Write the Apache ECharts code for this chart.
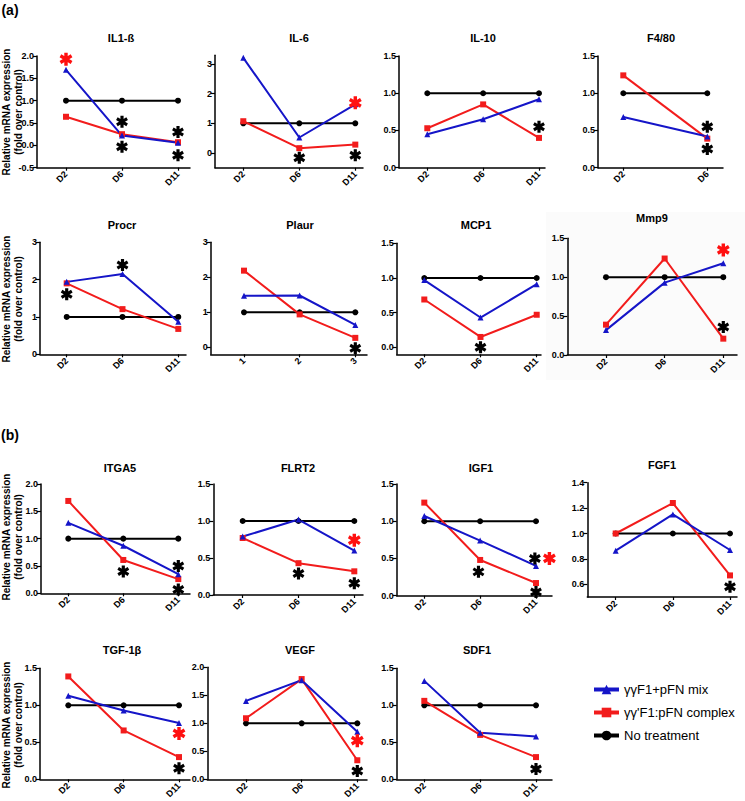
<!DOCTYPE html>
<html><head><meta charset="utf-8">
<script src="https://cdn.jsdelivr.net/npm/echarts@6/dist/echarts.min.js"></script>
<style>html,body{margin:0;padding:0;background:#fff}#c{width:745px;height:801px}</style>
</head><body><div id="c"></div>
<script>
// ---------- categories & tick labels ----------
const days = ['D2', 'D6', 'D11'];
const days2 = ['D2', 'D6'];
const nums = ['1', '2', '3'];
const ticksIL1b = [-0.5, 0, 0.5, 1, 1.5, 2];
const ticksInt3 = [0, 1, 2, 3];
const ticks15 = [0, 0.5, 1, 1.5];
const ticks20 = [0, 0.5, 1, 1.5, 2];
const ticksFGF1 = [0.6, 0.8, 1.0, 1.2, 1.4];

// ---------- series names ----------
const nameMix = 'γγF1+pFN mix';
const nameCpx = "γγ'F1:pFN complex";
const nameCtl = 'No treatment';

// ---------- values (fold over control) ----------
const IL1b_mix = [1.69, 0.22, 0.06];
const IL1b_cpx = [0.64, 0.25, 0.07];
const IL1b_ctl = [1, 1, 1];
const IL1b_starBlack = [[1, 0.53], [1, -0.03], [2, 0.30], [2, -0.22]];
const IL1b_starRed = [[0, 1.93]];

const IL6_mix = [3.21, 0.52, 1.64];
const IL6_cpx = [1.07, 0.16, 0.28];
const IL6_ctl = [1, 1, 1];
const IL6_starBlack = [[1, -0.16], [2, -0.08]];
const IL6_starRed = [[2, 1.69]];

const IL10_mix = [0.45, 0.65, 0.92];
const IL10_cpx = [0.53, 0.85, 0.40];
const IL10_ctl = [1, 1, 1];
const IL10_starBlack = [[2, 0.55]];
const IL10_starRed = [];

const F480_mix = [0.68, 0.42];
const F480_cpx = [1.24, 0.39];
const F480_ctl = [1, 1];
const F480_starBlack = [[1, 0.55], [1, 0.25]];
const F480_starRed = [];

const Procr_mix = [1.94, 2.15, 0.87];
const Procr_cpx = [1.90, 1.21, 0.68];
const Procr_ctl = [1, 1, 1];
const Procr_starBlack = [[1, 2.39], [0, 1.61]];
const Procr_starRed = [];

const Plaur_mix = [1.47, 1.48, 0.64];
const Plaur_cpx = [2.19, 0.94, 0.27];
const Plaur_ctl = [1, 1, 1];
const Plaur_starBlack = [[2, -0.03]];
const Plaur_starRed = [];

const MCP1_mix = [0.97, 0.43, 0.91];
const MCP1_cpx = [0.69, 0.15, 0.47];
const MCP1_ctl = [1, 1, 1];
const MCP1_starBlack = [[1, 0.0]];
const MCP1_starRed = [];

const Mmp9_mix = [0.32, 0.93, 1.18];
const Mmp9_cpx = [0.39, 1.24, 0.21];
const Mmp9_ctl = [1, 1, 1];
const Mmp9_starBlack = [[2, 0.36]];
const Mmp9_starRed = [[2, 1.35]];

const ITGA5_mix = [1.29, 0.87, 0.35];
const ITGA5_cpx = [1.69, 0.61, 0.26];
const ITGA5_ctl = [1, 1, 1];
const ITGA5_starBlack = [[1, 0.40], [2, 0.50], [2, 0.07]];
const ITGA5_starRed = [];

const FLRT2_mix = [0.79, 1.02, 0.60];
const FLRT2_cpx = [0.77, 0.43, 0.32];
const FLRT2_ctl = [1, 1, 1];
const FLRT2_starBlack = [[1, 0.29], [2, 0.16]];
const FLRT2_starRed = [[2, 0.74]];

const IGF1_mix = [1.07, 0.74, 0.40];
const IGF1_cpx = [1.25, 0.48, 0.17];
const IGF1_ctl = [1, 1, 1];
const IGF1_starBlack = [[0.97, 0.32], [1.98, 0.50], [2, 0.05]];
const IGF1_starRed = [[2.24, 0.50]];

const FGF1_mix = [0.865, 1.15, 0.87];
const FGF1_cpx = [1.0, 1.24, 0.67];
const FGF1_ctl = [1, 1, 1];
const FGF1_starBlack = [[2, 0.58]];
const FGF1_starRed = [];

const TGF_mix = [1.13, 0.93, 0.76];
const TGF_cpx = [1.39, 0.66, 0.30];
const TGF_ctl = [1, 1, 1];
const TGF_starBlack = [[2, 0.15]];
const TGF_starRed = [[2, 0.62]];

const VEGF_mix = [1.40, 1.77, 0.85];
const VEGF_cpx = [1.09, 1.79, 0.34];
const VEGF_ctl = [1, 1, 1];
const VEGF_starBlack = [[2, 0.15]];
const VEGF_starRed = [[2, 0.69]];

const SDF1_mix = [1.33, 0.63, 0.58];
const SDF1_cpx = [1.06, 0.60, 0.30];
const SDF1_ctl = [1, 1, 1];
const SDF1_starBlack = [[2, 0.14]];
const SDF1_starRed = [];

// ---------- panel definitions ----------
const panels = [
  {t: 'IL1-ß', c: days, mix: IL1b_mix, cpx: IL1b_cpx, ctl: IL1b_ctl, sb: IL1b_starBlack, sr: IL1b_starRed, ymin: -0.5, ymax: 2.0, yt: ticksIL1b, dec: 1},
  {t: 'IL-6', c: days, mix: IL6_mix, cpx: IL6_cpx, ctl: IL6_ctl, sb: IL6_starBlack, sr: IL6_starRed, ymin: -0.5, ymax: 3.3, yt: ticksInt3, dec: 0},
  {t: 'IL-10', c: days, mix: IL10_mix, cpx: IL10_cpx, ctl: IL10_ctl, sb: IL10_starBlack, sr: IL10_starRed, ymin: 0, ymax: 1.5, yt: ticks15, dec: 1},
  {t: 'F4/80', c: days2, mix: F480_mix, cpx: F480_cpx, ctl: F480_ctl, sb: F480_starBlack, sr: F480_starRed, ymin: 0, ymax: 1.5, yt: ticks15, dec: 1},
  {t: 'Procr', c: days, mix: Procr_mix, cpx: Procr_cpx, ctl: Procr_ctl, sb: Procr_starBlack, sr: Procr_starRed, ymin: 0, ymax: 3, yt: ticksInt3, dec: 0},
  {t: 'Plaur', c: nums, mix: Plaur_mix, cpx: Plaur_cpx, ctl: Plaur_ctl, sb: Plaur_starBlack, sr: Plaur_starRed, ymin: -0.2, ymax: 3, yt: ticksInt3, dec: 0},
  {t: 'MCP1', c: days, mix: MCP1_mix, cpx: MCP1_cpx, ctl: MCP1_ctl, sb: MCP1_starBlack, sr: MCP1_starRed, ymin: -0.1, ymax: 1.5, yt: ticks15, dec: 1},
  {t: 'Mmp9', c: days, mix: Mmp9_mix, cpx: Mmp9_cpx, ctl: Mmp9_ctl, sb: Mmp9_starBlack, sr: Mmp9_starRed, ymin: 0, ymax: 1.5, yt: ticks15, dec: 1},
  {t: 'ITGA5', c: days, mix: ITGA5_mix, cpx: ITGA5_cpx, ctl: ITGA5_ctl, sb: ITGA5_starBlack, sr: ITGA5_starRed, ymin: 0, ymax: 2.0, yt: ticks20, dec: 1},
  {t: 'FLRT2', c: days, mix: FLRT2_mix, cpx: FLRT2_cpx, ctl: FLRT2_ctl, sb: FLRT2_starBlack, sr: FLRT2_starRed, ymin: 0, ymax: 1.5, yt: ticks15, dec: 1},
  {t: 'IGF1', c: days, mix: IGF1_mix, cpx: IGF1_cpx, ctl: IGF1_ctl, sb: IGF1_starBlack, sr: IGF1_starRed, ymin: 0, ymax: 1.5, yt: ticks15, dec: 1},
  {t: 'FGF1', c: days, mix: FGF1_mix, cpx: FGF1_cpx, ctl: FGF1_ctl, sb: FGF1_starBlack, sr: FGF1_starRed, ymin: 0.5, ymax: 1.4, yt: ticksFGF1, dec: 1},
  {t: 'TGF-1β', c: days, mix: TGF_mix, cpx: TGF_cpx, ctl: TGF_ctl, sb: TGF_starBlack, sr: TGF_starRed, ymin: 0, ymax: 1.5, yt: ticks15, dec: 1},
  {t: 'VEGF', c: days, mix: VEGF_mix, cpx: VEGF_cpx, ctl: VEGF_ctl, sb: VEGF_starBlack, sr: VEGF_starRed, ymin: 0, ymax: 2.0, yt: ticks20, dec: 1},
  {t: 'SDF1', c: days, mix: SDF1_mix, cpx: SDF1_cpx, ctl: SDF1_ctl, sb: SDF1_starBlack, sr: SDF1_starRed, ymin: 0, ymax: 1.5, yt: ticks15, dec: 1}
];

// layout (pixels): axisLeft, axisRight, firstCat, lastCat, plotTop, plotBottom, titleX, titleY
const layout = [
  [37, 190, 66, 178, 56, 167.7, 121, 38],
  [215, 363, 243.3, 355.3, 55.2, 167.7, 299, 38],
  [399, 545, 427.3, 539, 56, 167.7, 483, 38],
  [598, 723, 623.3, 707.3, 56, 167.7, 661, 38],
  [40, 186, 66.7, 178.3, 242.3, 354.3, 122, 225],
  [210.7, 367, 244, 355.3, 242.3, 354.3, 300, 225],
  [396.7, 541, 424.3, 536.7, 243.3, 354.3, 476, 225],
  [567.3, 737, 606, 723.3, 238.3, 355, 652, 218],
  [41, 190, 68.3, 178.3, 484, 593.3, 120, 468],
  [213.3, 363, 242.7, 354.3, 484, 595, 298, 468],
  [396.7, 552, 424.3, 536, 484, 595.7, 481, 468],
  [587.3, 737, 615.7, 730, 482.7, 597, 662, 465],
  [40, 190, 68.3, 179, 668.3, 779.3, 122, 650],
  [207.3, 367, 246, 357.3, 667.3, 779.3, 300, 650],
  [396.7, 552, 424.3, 536, 668.3, 779.3, 477, 650]
];

const FONT = '"Liberation Sans Narrow", "Liberation Sans", Arial, sans-serif';
const BLUE = '#1515c8';
const RED = '#f21c1c';
const STAR = 'path://M4.55 0.5 L7.45 0.5 L7.45 11.5 L4.55 11.5 Z M9.98 1.88 L11.43 4.39 L2.02 10.12 L0.57 7.61 Z M11.43 7.61 L9.98 10.12 L0.57 4.39 L2.02 1.88 Z';

const grids = [], xAxes = [], yAxes = [], series = [], graphics = [];

graphics.push({type: 'rect', shape: {x: 546, y: 212, width: 199, height: 168}, style: {fill: '#fbfbfb'}, z: -10, silent: true});

panels.forEach((p, i) => {
  const L = layout[i];
  const n = p.c.length;
  const step = (L[3] - L[2]) / (n - 1);
  grids.push({left: L[0], top: L[4], width: L[1] - L[0], height: L[5] - L[4], containLabel: false});
  const idx = p.c.map((_, k) => k);
  xAxes.push({
    type: 'value', gridIndex: i,
    min: -(L[2] - L[0]) / step, max: (n - 1) + (L[1] - L[3]) / step,
    axisLine: {show: true, onZero: false, lineStyle: {color: '#000', width: 1.5}},
    axisTick: {show: true, length: 3, customValues: idx, lineStyle: {color: '#000', width: 1.2}},
    axisLabel: {customValues: idx, rotate: 45, margin: 5, fontSize: 9, fontWeight: 'bold', fontFamily: FONT, color: '#000',
      formatter: v => p.c[Math.round(v)]},
    splitLine: {show: false}
  });
  yAxes.push({
    type: 'value', gridIndex: i, min: p.ymin, max: p.ymax,
    axisLine: {show: true, onZero: false, lineStyle: {color: '#000', width: 1.5}},
    axisTick: {show: true, length: 4, customValues: p.yt, lineStyle: {color: '#000', width: 1.2}},
    axisLabel: {customValues: p.yt, margin: 3, fontSize: 9, fontWeight: 'bold', fontFamily: FONT, color: '#000',
      formatter: v => Number(v).toFixed(p.dec)},
    splitLine: {show: false}
  });
  const pts = arr => arr.map((v, k) => [k, v]);
  series.push({name: nameCtl, type: 'line', xAxisIndex: i, yAxisIndex: i, data: pts(p.ctl),
    symbol: 'circle', symbolSize: 6, color: '#000', lineStyle: {width: 2, color: '#000'}, itemStyle: {color: '#000'}});
  series.push({name: nameCpx, type: 'line', xAxisIndex: i, yAxisIndex: i, data: pts(p.cpx),
    symbol: 'rect', symbolSize: 6, color: RED, lineStyle: {width: 2, color: RED}, itemStyle: {color: RED}});
  series.push({name: nameMix, type: 'line', xAxisIndex: i, yAxisIndex: i, data: pts(p.mix),
    symbol: 'triangle', symbolSize: 6, color: BLUE, lineStyle: {width: 2, color: BLUE}, itemStyle: {color: BLUE}});
  if (p.sb.length) series.push({type: 'scatter', xAxisIndex: i, yAxisIndex: i, data: p.sb,
    symbol: STAR, symbolSize: 12, symbolKeepAspect: true, itemStyle: {color: '#000', opacity: 1}, z: 5});
  if (p.sr.length) series.push({type: 'scatter', xAxisIndex: i, yAxisIndex: i, data: p.sr,
    symbol: STAR, symbolSize: 13, symbolKeepAspect: true, itemStyle: {color: '#ff1010', opacity: 1}, z: 5});
  graphics.push({type: 'text', x: L[6], y: L[7], silent: true,
    style: {text: p.t, fontSize: 11, fontWeight: 'bold', fontFamily: FONT, fill: '#000',
      textAlign: 'center', textVerticalAlign: 'middle', align: 'center', verticalAlign: 'middle'}});
});

// section labels
[['(a)', 10, 10], ['(b)', 10, 435]].forEach(s => graphics.push({type: 'text', x: s[1], y: s[2], silent: true,
  style: {text: s[0], fontSize: 14, fontWeight: 'bold', fontFamily: FONT, fill: '#000',
    textAlign: 'center', textVerticalAlign: 'middle', align: 'center', verticalAlign: 'middle'}}));

// y-axis titles
[112, 299, 537, 725].forEach(yc => graphics.push({type: 'text', x: 12.5, y: yc, rotation: Math.PI / 2, silent: true,
  style: {text: 'Relative mRNA expression\n(fold over control)', fontSize: 10, fontWeight: 'bold', fontFamily: FONT,
    lineHeight: 11.5, fill: '#000', textAlign: 'center', textVerticalAlign: 'middle', align: 'center', verticalAlign: 'middle'}}));

const chart = echarts.init(document.getElementById('c'), null, {renderer: 'svg'});
chart.setOption({
  animation: false,
  backgroundColor: '#fff',
  grid: grids, xAxis: xAxes, yAxis: yAxes, series: series, graphic: graphics,
  legend: {
    data: [nameMix, nameCpx, nameCtl], orient: 'vertical', left: 592, top: 683, padding: 0,
    itemWidth: 25, itemHeight: 12, itemGap: 10, selectedMode: false,
    lineStyle: {width: 4},
    textStyle: {fontSize: 13, fontFamily: '"Liberation Sans", Arial, sans-serif', color: '#000'}
  }
});
</script></body></html>
